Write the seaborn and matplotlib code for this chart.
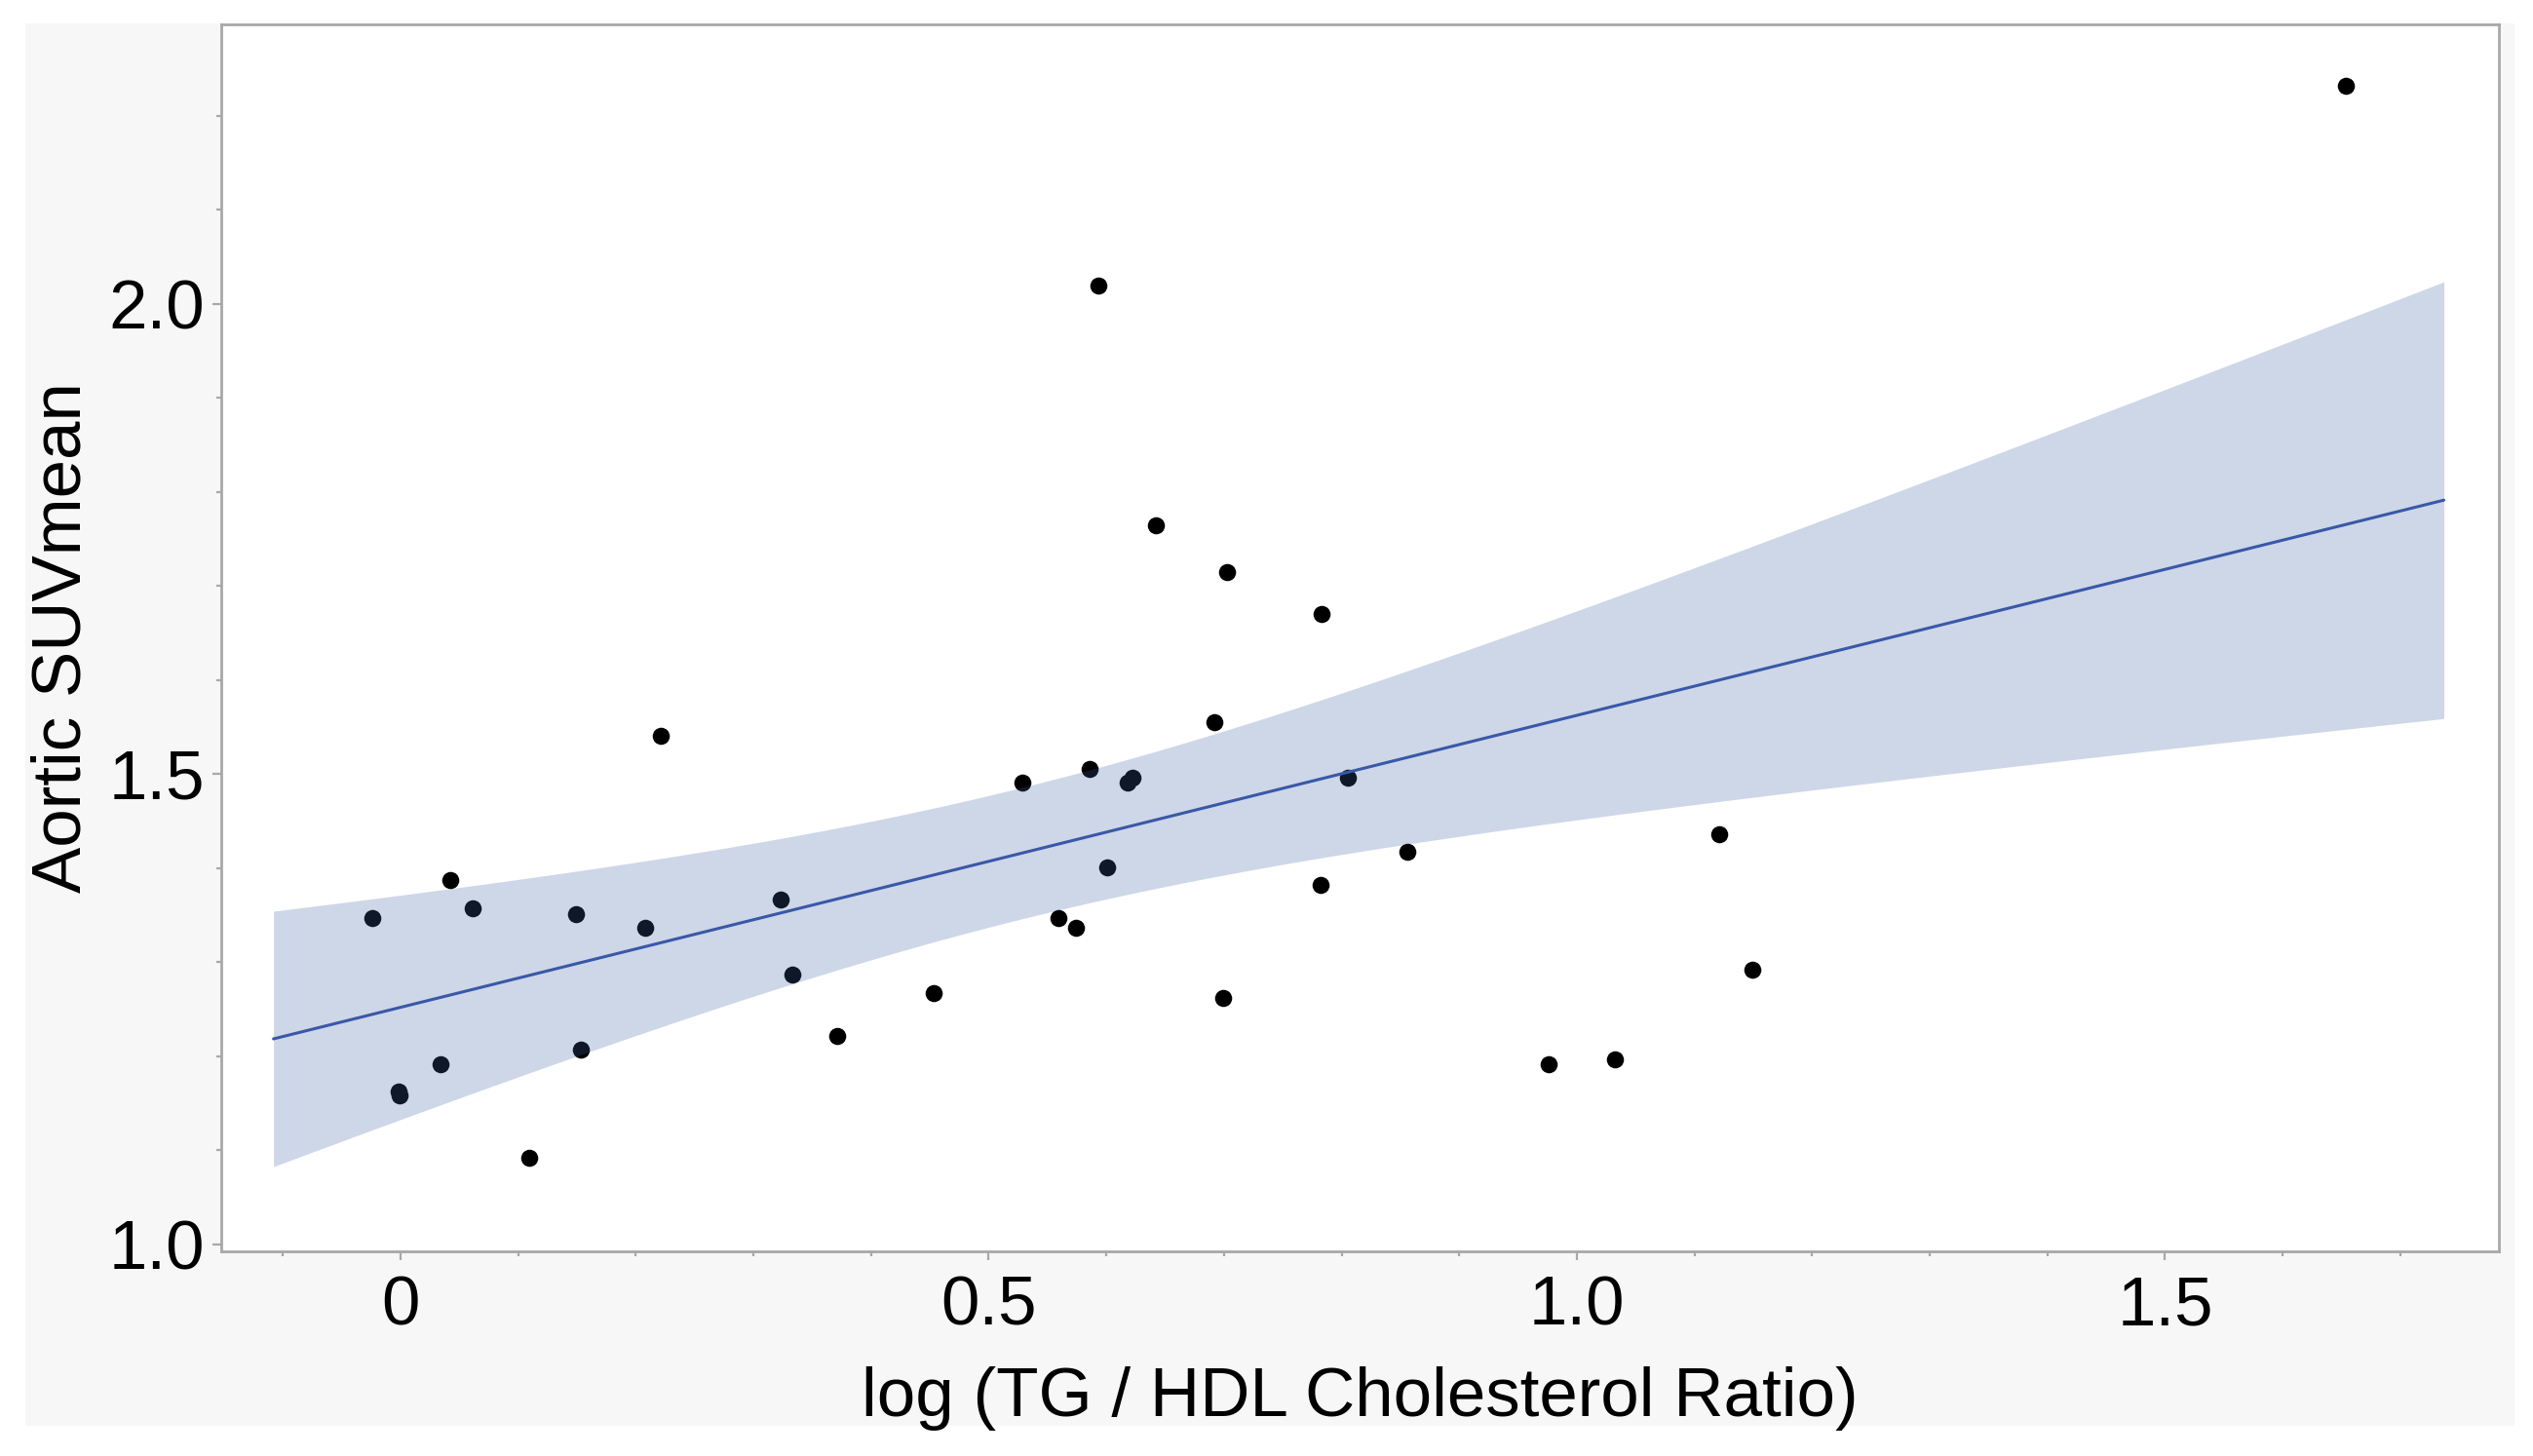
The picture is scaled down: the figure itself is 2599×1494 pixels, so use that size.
import numpy as np
import pandas as pd
import matplotlib
matplotlib.use("Agg")
import matplotlib.pyplot as plt
from matplotlib.patches import Rectangle
from matplotlib.ticker import FixedLocator, MultipleLocator
import seaborn as sns

# values
log_ratio = [-0.024, -0.002, -0.001, 0.034, 0.042, 0.061, 0.109, 0.149, 0.153,
             0.208, 0.221, 0.323, 0.333, 0.371, 0.453, 0.529, 0.559, 0.574,
             0.586, 0.593, 0.601, 0.618, 0.622, 0.642, 0.692, 0.699, 0.703,
             0.782, 0.783, 0.805, 0.856, 0.976, 1.032, 1.121, 1.149, 1.654]
suv_mean = [1.347, 1.163, 1.158, 1.192, 1.387, 1.357, 1.092, 1.351, 1.207,
            1.337, 1.541, 1.367, 1.287, 1.222, 1.267, 1.491, 1.347, 1.337,
            1.506, 2.019, 1.401, 1.491, 1.496, 1.765, 1.555, 1.262, 1.715,
            1.382, 1.670, 1.496, 1.417, 1.192, 1.197, 1.436, 1.292, 2.232]

x_ticks = [0, 0.5, 1.0, 1.5]
x_tick_labels = ["0", "0.5", "1.0", "1.5"]
y_ticks = [1.0, 1.5, 2.0]
y_tick_labels = ["1.0", "1.5", "2.0"]

df = pd.DataFrame({"log_ratio": log_ratio, "suv_mean": suv_mean})

sns.set_theme(style="ticks")
plt.rcParams['font.family'] = ['Liberation Sans', 'DejaVu Sans']

W, H = 2599, 1494
fig = plt.figure(figsize=(W / 200, H / 200), dpi=200, facecolor='white')

# light grey panel behind the plot
fig.patches.append(Rectangle((26 / W, 1 - 1463 / H), (2580 - 26) / W, (1463 - 24) / H,
                             transform=fig.transFigure, facecolor='#F7F7F7',
                             edgecolor='none', zorder=-10))

ax = fig.add_axes([227 / W, 1 - 1284 / H, (2564 - 227) / W, (1284 - 25) / H])
ax.set_facecolor('white')

# fit line spans this range
fit_lo, fit_hi = -0.108, 1.737
ax.set_xlim(fit_lo, fit_hi)
sns.regplot(data=df, x='log_ratio', y='suv_mean', ax=ax, truncate=False, ci=None,
            scatter_kws=dict(color='black', s=40, linewidths=0, alpha=1, zorder=2),
            line_kws=dict(lw=1.1, color='#3A58A8', zorder=4))

# 95% confidence band of the fitted mean (ordinary least squares)
x = np.asarray(log_ratio)
y = np.asarray(suv_mean)
n = len(x)
slope, intercept = np.polyfit(x, y, 1)
resid = y - (slope * x + intercept)
s_err = np.sqrt(np.sum(resid ** 2) / (n - 2))
t_crit = 2.0322  # t(0.975, df=34)
grid = np.linspace(fit_lo, fit_hi, 200)
half = t_crit * s_err * np.sqrt(1 / n + (grid - x.mean()) ** 2 / np.sum((x - x.mean()) ** 2))
fit = slope * grid + intercept
ax.fill_between(grid, fit - half, fit + half, facecolor='#3F63A7', alpha=0.25,
                linewidth=0, zorder=3)

ax.set_xlim(-0.1524, 1.7838)
ax.set_ylim(0.9927, 2.297)

ax.xaxis.set_major_locator(FixedLocator(x_ticks))
ax.set_xticklabels(x_tick_labels)
ax.xaxis.set_minor_locator(MultipleLocator(0.1))
ax.yaxis.set_major_locator(FixedLocator(y_ticks))
ax.set_yticklabels(y_tick_labels)
ax.yaxis.set_minor_locator(MultipleLocator(0.1))

ax.tick_params(which='major', length=3.4, width=0.8, color='#A8A8A8',
               direction='out', labelsize=25.5, pad=5.5, labelcolor='black')
ax.tick_params(which='minor', length=1.8, width=0.8, color='#A8A8A8', direction='out')
ax.tick_params(axis='y', which='major', pad=2.8)

for side in ['top', 'right', 'bottom', 'left']:
    ax.spines[side].set_visible(True)
    ax.spines[side].set_color('#A8A8A8')
    ax.spines[side].set_linewidth(1.0)

ax.set_xlabel('log (TG / HDL Cholesterol Ratio)', fontsize=25.5, labelpad=10, color='black')
ax.set_ylabel('Aortic SUVmean', fontsize=25.5, labelpad=5, color='black')

fig.savefig('out.png', dpi=200, facecolor='white')
